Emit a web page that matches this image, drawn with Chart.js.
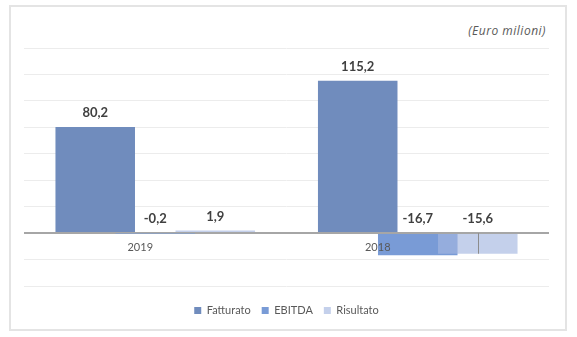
<!DOCTYPE html>
<html lang="it">
<head>
    <meta charset="UTF-8">
    <title>Fatturato, EBITDA, Risultato</title>
    <style>
        html, body { margin: 0; padding: 0; background: #fff; }
        .wrap { position: relative; width: 577px; height: 337px; }
        .frame {
            position: absolute; left: 9px; top: 5px;
            width: 554px; height: 322px;
            border: 2px solid #e4e4e4;
        }
        .unit {
            position: absolute; right: 31px; top: 22px;
            font: italic 12px "Open Sans", Lato, sans-serif;
            letter-spacing: 0.5px;
            color: #595959;
        }
        canvas { position: absolute; left: 0; top: 0; }
    </style>
</head>
<body>
    <div class="wrap">
        <div class="frame"></div>
        <div class="unit">(Euro milioni)</div>
        <canvas id="chart" width="577" height="337"></canvas>
    </div>

    <script src="https://cdn.jsdelivr.net/npm/chart.js"></script>
    <script>
        // values
        const years = ['2019', '2018'];
        const fatturato = [80.2, 115.2];
        const ebitda = [-0.2, -16.7];
        const risultato = [1.9, -15.6];

        const fmt = v => v.toFixed(1).replace('.', ',');

        // Risultato is painted last so its pale bar lies over the EBITDA one
        let lateDraw = false;
        const paintOrder = {
            id: 'paintOrder',
            beforeDatasetDraw(chart, args) {
                if (args.index === 2 && !lateDraw) return false;
            },
            afterDatasetsDraw(chart) {
                lateDraw = true;
                chart.getDatasetMeta(2).controller.draw();
                lateDraw = false;
            }
        };

        // value labels above bars (negative ones sit above the zero line)
        const valueLabels = {
            id: 'valueLabels',
            afterDatasetsDraw(chart) {
                const ctx = chart.ctx;
                const zero = chart.scales.y.getPixelForValue(0);
                ctx.save();
                ctx.font = 'bold 13px Lato, "Open Sans", sans-serif';
                ctx.fillStyle = '#404040';
                ctx.textAlign = 'center';
                ctx.textBaseline = 'middle';
                chart.data.datasets.forEach((ds, di) => {
                    const meta = chart.getDatasetMeta(di);
                    meta.data.forEach((bar, i) => {
                        const v = ds.data[i];
                        const y = v >= 0 ? bar.y - 14 : zero - 14;
                        ctx.fillText(fmt(v), bar.x, y);
                    });
                });
                // leader line on the negative Risultato bar
                const rMeta = chart.getDatasetMeta(2);
                rMeta.data.forEach((bar, i) => {
                    if (risultato[i] < -1) {
                        ctx.strokeStyle = '#8c8c8c';
                        ctx.lineWidth = 1;
                        ctx.beginPath();
                        ctx.moveTo(Math.round(bar.x) + 0.5, zero);
                        ctx.lineTo(Math.round(bar.x) + 0.5, bar.y);
                        ctx.stroke();
                    }
                });
                ctx.restore();
            }
        };

        // category names sit just under the zero line, shifted left
        const yearLabels = {
            id: 'yearLabels',
            afterDatasetsDraw(chart) {
                const ctx = chart.ctx;
                const x = chart.scales.x;
                const zero = chart.scales.y.getPixelForValue(0);
                const shift = [-15, -40];
                ctx.save();
                ctx.font = '11px Lato, "Open Sans", sans-serif';
                ctx.fillStyle = '#595959';
                ctx.textAlign = 'center';
                ctx.textBaseline = 'middle';
                years.forEach((y, i) => {
                    ctx.fillText(y, x.getPixelForValue(i) + shift[i], zero + 14);
                });
                ctx.restore();
            }
        };

        new Chart(document.getElementById('chart'), {
            type: 'bar',
            data: {
                labels: years,
                datasets: [
                    { label: 'Fatturato', data: fatturato, backgroundColor: '#708cbd' },
                    { label: 'EBITDA', data: ebitda, backgroundColor: '#799bd6' },
                    { label: 'Risultato', data: risultato, backgroundColor: 'rgba(165,183,224,0.65)' }
                ]
            },
            options: {
                responsive: false,
                animation: false,
                categoryPercentage: 0.686,
                barPercentage: 1.325,
                layout: { padding: { left: 24, right: 28, top: 48, bottom: 11 } },
                plugins: {
                    tooltip: { enabled: false },
                    legend: {
                        position: 'bottom',
                        labels: {
                            boxWidth: 7,
                            boxHeight: 7,
                            padding: 11,
                            color: '#595959',
                            font: { family: 'Lato, "Open Sans", sans-serif', size: 11 }
                        }
                    }
                },
                scales: {
                    x: {
                        ticks: { display: false },
                        grid: { display: false },
                        border: { display: false }
                    },
                    y: {
                        min: -40,
                        max: 140,
                        ticks: { display: false, stepSize: 20 },
                        border: { display: false },
                        grid: {
                            drawTicks: false,
                            color: c => c.tick.value === 0 ? '#a6a6a6' : '#ececec',
                            lineWidth: c => c.tick.value === 0 ? 2 : 1
                        }
                    }
                }
            },
            plugins: [paintOrder, valueLabels, yearLabels]
        });
    </script>
</body>
</html>
